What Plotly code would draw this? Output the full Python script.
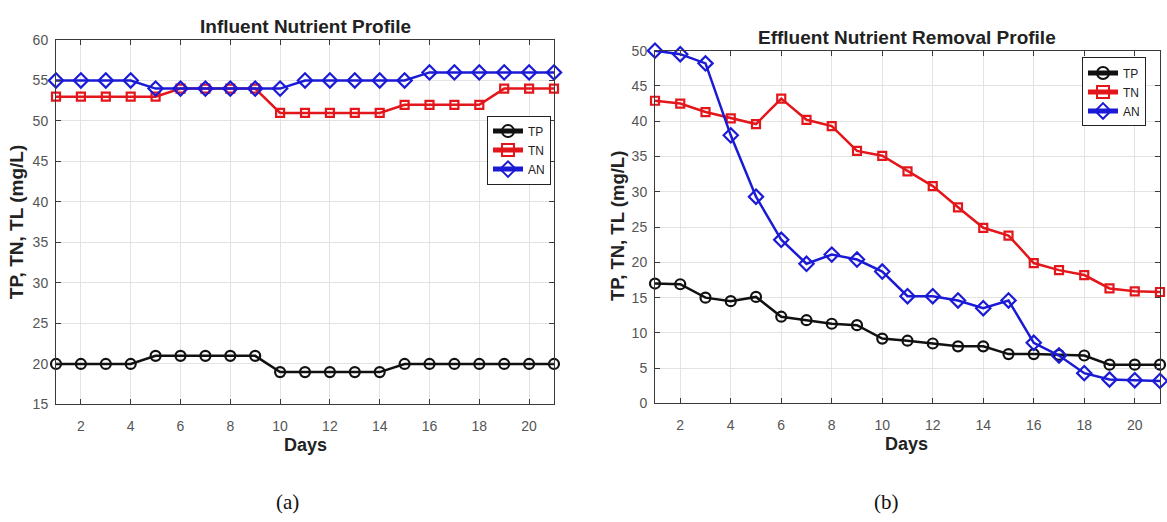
import plotly.graph_objects as go

# Sampling days
days = list(range(1, 22))

# Influent concentrations (mg/L)
inf_tp = [20, 20, 20, 20, 21, 21, 21, 21, 21, 19, 19, 19, 19, 19, 20, 20, 20, 20, 20, 20, 20]
inf_tn = [53, 53, 53, 53, 53, 54, 54, 54, 54, 51, 51, 51, 51, 51, 52, 52, 52, 52, 54, 54, 54]
inf_an = [55, 55, 55, 55, 54, 54, 54, 54, 54, 54, 55, 55, 55, 55, 55, 56, 56, 56, 56, 56, 56]

# Effluent concentrations (mg/L)
eff_tp = [17.0, 16.9, 15.0, 14.5, 15.1, 12.3, 11.8, 11.3, 11.1, 9.2, 8.9,
          8.5, 8.1, 8.1, 7.0, 7.0, 6.9, 6.8, 5.5, 5.5, 5.5]
eff_tn = [42.9, 42.5, 41.3, 40.4, 39.6, 43.2, 40.2, 39.3, 35.8, 35.1, 32.9,
          30.8, 27.8, 24.9, 23.8, 19.9, 18.9, 18.2, 16.3, 15.9, 15.8]
eff_an = [50.0, 49.5, 48.2, 38.0, 29.3, 23.2, 19.8, 21.1, 20.4, 18.7, 15.2,
          15.2, 14.6, 13.5, 14.6, 8.6, 6.8, 4.3, 3.4, 3.3, 3.2]

x_ticks = [2, 4, 6, 8, 10, 12, 14, 16, 18, 20]
series_names = ["TP", "TN", "AN"]
colors = ["#111111", "#e3171b", "#1b1bd6"]
symbols = ["circle-open", "square-open", "diamond-open"]
sizes = [10, 8, 11]

SANS = "Liberation Sans, Arial, sans-serif"
SERIF = "Liberation Serif, Times New Roman, serif"

W, H = 1167, 522


def px_x(p):
    return p / W


def px_y(p):
    return 1 - p / H


fig = go.Figure()

panels = [
    dict(xa="x", ya="y", legend="legend", data=[inf_tp, inf_tn, inf_an]),
    dict(xa="x2", ya="y2", legend="legend2", data=[eff_tp, eff_tn, eff_an]),
]

for panel in panels:
    for name, vals, col, sym, sz in zip(series_names, panel["data"], colors, symbols, sizes):
        fig.add_trace(go.Scatter(
            x=days, y=vals, name=name, mode="lines+markers",
            xaxis=panel["xa"], yaxis=panel["ya"], legend=panel["legend"],
            line=dict(color=col, width=2.5),
            marker=dict(symbol=sym, size=sz, color=col, line=dict(width=2.2, color=col)),
            cliponaxis=False,
        ))

axis_common = dict(
    showline=True, linecolor="#3a3a3a", linewidth=1, mirror="ticks",
    ticks="inside", ticklen=5, tickcolor="#3a3a3a", tickwidth=1,
    showgrid=True, gridcolor="#e3e3e3", gridwidth=1, zeroline=False,
    tickfont=dict(family=SANS, size=14, color="#555555"),
)
x_axis_extra = dict(ticklabelstandoff=9)
y_axis_extra = dict(ticklabelstandoff=4)

left_x = [px_x(56), px_x(554)]
right_x = [px_x(655), px_x(1160)]

legend_common = dict(
    xanchor="right", yanchor="top",
    bgcolor="white", bordercolor="#222222", borderwidth=1,
    font=dict(family=SANS, size=12, color="#222222"),
    itemwidth=30, tracegroupgap=0, itemsizing="constant",
)

fig.update_layout(
    width=W, height=H,
    margin=dict(l=0, r=0, t=0, b=0),
    paper_bgcolor="white", plot_bgcolor="white",
    showlegend=True,
    xaxis=dict(domain=left_x, range=[1, 21], tickvals=x_ticks, anchor="y", **axis_common, **x_axis_extra),
    yaxis=dict(domain=[px_y(409), px_y(33)], range=[15, 60], dtick=5, anchor="x", **axis_common, **y_axis_extra),
    xaxis2=dict(domain=right_x, range=[1, 21], tickvals=x_ticks, anchor="y2", **axis_common, **x_axis_extra),
    yaxis2=dict(domain=[px_y(408), px_y(44)], range=[0, 50], dtick=5, anchor="x2", **axis_common, **y_axis_extra),
    legend=dict(x=px_x(551), y=px_y(111), **legend_common),
    legend2=dict(x=px_x(1146), y=px_y(51), **legend_common),
)

texts = [
    # panel titles
    dict(text="<b>Influent Nutrient Profile</b>", x=305, y=19, size=19, family=SANS, color="#222222", angle=0),
    dict(text="<b>Effluent Nutrient Removal Profile</b>", x=907, y=30, size=19, family=SANS, color="#222222", angle=0),
    # axis titles
    dict(text="<b>TP, TN, TL (mg/L)</b>", x=16, y=221, size=19, family=SANS, color="#222222", angle=-90),
    dict(text="<b>TP, TN, TL (mg/L)</b>", x=617, y=225, size=18.5, family=SANS, color="#222222", angle=-90),
    dict(text="<b>Days</b>", x=305, y=451, size=18, family=SANS, color="#222222", angle=0),
    dict(text="<b>Days</b>", x=907, y=450, size=18, family=SANS, color="#222222", angle=0),
    # panel labels
    dict(text="(a)", x=287, y=510, size=21, family=SERIF, color="#111111", angle=0),
    dict(text="(b)", x=886, y=510, size=21, family=SERIF, color="#111111", angle=0),
]
for t in texts:
    fig.add_annotation(
        text=t["text"], xref="paper", yref="paper",
        x=px_x(t["x"]), y=px_y(t["y"]), xanchor="center", yanchor="middle",
        showarrow=False, textangle=t["angle"],
        font=dict(family=t["family"], size=t["size"], color=t["color"]),
    )

fig.write_html("out.html")
